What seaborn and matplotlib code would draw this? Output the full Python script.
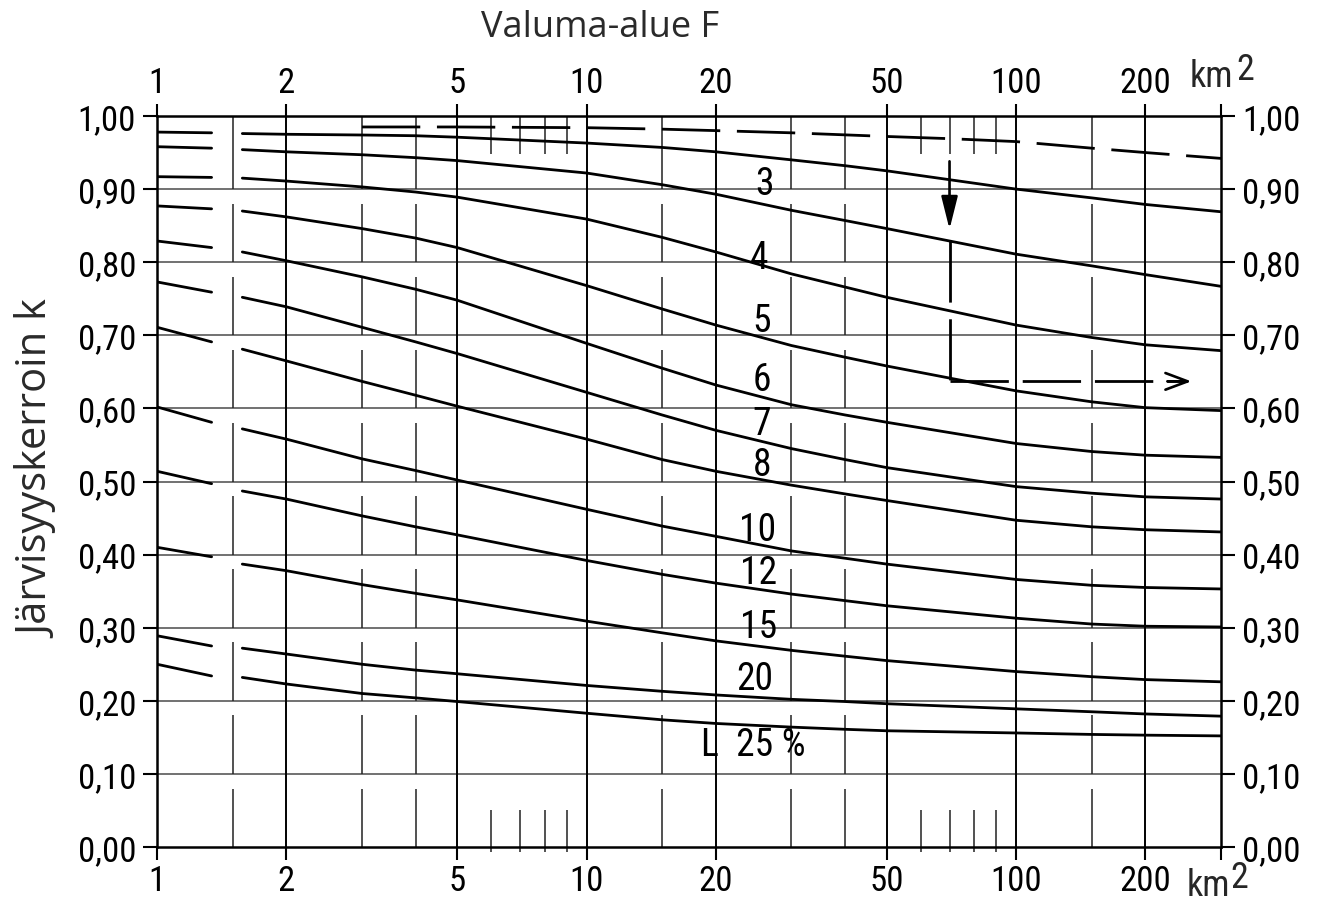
import os
import numpy as np
import pandas as pd
import matplotlib
matplotlib.use('Agg')
import matplotlib.pyplot as plt
from matplotlib import font_manager as fm
from matplotlib.ticker import NullLocator, FixedLocator, FixedFormatter
import seaborn as sns

# catchment area F (km2) where the curves were read
F = [1, 1.34, 1.58, 2, 3, 4, 5, 10, 15, 20, 30, 40, 50, 100, 150, 200, 300]

# lake coefficient k for each lake percentage L
L2 = [0.978, 0.977, 0.976, 0.975, 0.974, 0.973, 0.971, 0.963, 0.957, 0.951, 0.940, 0.932, 0.925, 0.900, 0.888, 0.879, 0.869]
L3 = [0.958, 0.956, 0.954, 0.951, 0.947, 0.943, 0.939, 0.922, 0.906, 0.893, 0.871, 0.857, 0.846, 0.811, 0.795, 0.783, 0.767]
L4 = [0.917, 0.916, 0.915, 0.911, 0.903, 0.896, 0.889, 0.859, 0.834, 0.814, 0.784, 0.766, 0.752, 0.714, 0.697, 0.687, 0.679]
L5 = [0.877, 0.873, 0.870, 0.862, 0.846, 0.833, 0.820, 0.768, 0.736, 0.714, 0.686, 0.670, 0.658, 0.624, 0.609, 0.601, 0.597]
L6 = [0.829, 0.820, 0.814, 0.802, 0.780, 0.763, 0.748, 0.689, 0.655, 0.632, 0.605, 0.591, 0.581, 0.552, 0.541, 0.536, 0.533]
L7 = [0.773, 0.759, 0.752, 0.739, 0.711, 0.691, 0.675, 0.622, 0.591, 0.570, 0.545, 0.530, 0.519, 0.493, 0.484, 0.479, 0.476]
L8 = [0.711, 0.691, 0.681, 0.665, 0.637, 0.618, 0.603, 0.558, 0.530, 0.514, 0.495, 0.483, 0.474, 0.447, 0.438, 0.434, 0.431]
L10 = [0.602, 0.581, 0.572, 0.558, 0.531, 0.515, 0.502, 0.462, 0.439, 0.425, 0.405, 0.395, 0.387, 0.366, 0.358, 0.355, 0.353]
L12 = [0.514, 0.497, 0.487, 0.476, 0.453, 0.438, 0.427, 0.392, 0.373, 0.361, 0.346, 0.337, 0.330, 0.313, 0.305, 0.302, 0.301]
L15 = [0.410, 0.397, 0.387, 0.378, 0.359, 0.347, 0.338, 0.309, 0.293, 0.282, 0.269, 0.261, 0.255, 0.240, 0.233, 0.229, 0.226]
L20 = [0.289, 0.275, 0.272, 0.264, 0.250, 0.242, 0.237, 0.221, 0.213, 0.208, 0.202, 0.199, 0.196, 0.189, 0.185, 0.182, 0.179]
L25 = [0.250, 0.234, 0.232, 0.223, 0.210, 0.204, 0.199, 0.183, 0.174, 0.169, 0.164, 0.161, 0.159, 0.156, 0.154, 0.153, 0.152]
CURVES = [L2, L3, L4, L5, L6, L7, L8, L10, L12, L15, L20, L25]

# dashed example curve at the top
DASH_F = [3, 5, 10, 15, 20, 30, 50, 70, 100, 150, 200, 300]
DASH_K = [0.985, 0.985, 0.984, 0.982, 0.980, 0.977, 0.972, 0.969, 0.965, 0.956, 0.950, 0.942]

# worked example: F = 70 km2 -> k = 0.637
EX_F = 70
EX_K = 0.637

CURVE_LABELS = ['3', '4', '5', '6', '7', '8', '10', '12', '15', '20']
LABEL_F = [25.9, 25.2, 25.6, 25.6, 25.6, 25.6, 25.0, 25.2, 25.2, 24.6]
LABEL_K = [0.907, 0.807, 0.72, 0.639, 0.58, 0.523, 0.435, 0.376, 0.302, 0.23]

X_TICKS = [1, 2, 5, 10, 20, 50, 100, 200, 300]
X_TICK_LABELS = ['1', '2', '5', '10', '20', '50', '100', '200', '']
Y_TICKS = [0.0, 0.1, 0.2, 0.3, 0.4, 0.5, 0.6, 0.7, 0.8, 0.9, 1.0]
Y_TICK_LABELS = ['0,00', '0,10', '0,20', '0,30', '0,40', '0,50', '0,60', '0,70', '0,80', '0,90', '1,00']
FULL_GRID = [2, 5, 10, 20, 50, 100, 200]
PART_GRID = [1.5, 3, 4, 15, 30, 40, 150]
SHORT_TICKS = [6, 7, 8, 9, 60, 70, 80, 90]

sns.set_style('white')

# look for a narrow face for the numbers
files = [f.fname for f in fm.fontManager.ttflist]
prefer = ['liberationsansnarrow-regular', 'robotocondensed-regular', 'notosans-condensed.',
          'notosans-condensedregular', 'dejavusanscondensed.', 'opensans-condensed',
          'opensans_condensed-regular']
narrow_file = None
for p in prefer:
    hits = [f for f in files if p in os.path.basename(f).lower()]
    if hits:
        narrow_file = hits[0]
        break
if narrow_file:
    fm.fontManager.addfont(narrow_file)
    num_name = fm.FontProperties(fname=narrow_file).get_name()
    plt.rcParams['font.stretch'] = 'condensed'
    num_size = 25
else:
    num_name = 'Roboto'
    num_size = 23
plt.rcParams['font.family'] = [num_name, 'DejaVu Sans']
text_font = ['Open Sans', 'DejaVu Sans']

# long table, each curve split in two pieces (gap around F = 1.5)
rows = []
for i, vals in enumerate(CURVES):
    for j, (f, k) in enumerate(zip(F, vals)):
        rows.append({'F': f, 'k': k, 'seg': f'{i}-{0 if j < 2 else 1}'})
df = pd.DataFrame(rows)

fig = plt.figure(figsize=(13.2, 9.04), dpi=100)
ax = fig.add_axes([157 / 1320, 56 / 904, 1064 / 1320, 731 / 904])
ax.set_xscale('log')
ax.set_xlim(1, 300)
ax.set_ylim(0, 1)

# grid
for y in Y_TICKS[1:-1]:
    ax.axhline(y, color='#666666', lw=1.3, zorder=1)
ax.vlines(FULL_GRID, 0, 1, color='black', lw=1.4, zorder=1)
seg_lo = [k / 10 for k in range(9)] + [0.9]
seg_hi = [k / 10 + 0.08 for k in range(9)] + [1.0]
for x in PART_GRID:
    ax.vlines([x] * len(seg_lo), seg_lo, seg_hi, color='#222222', lw=1.1, zorder=1)
ax.vlines(SHORT_TICKS, -0.007, 0.05, color='#222222', lw=1.1, zorder=1, clip_on=False)
ax.vlines(SHORT_TICKS, 0.948, 1.0, color='#222222', lw=1.1, zorder=1)

# curves
sns.lineplot(data=df, x='F', y='k', units='seg', estimator=None, sort=False,
             color='black', lw=2.0, ax=ax, legend=False, zorder=3)
dash_line = ax.plot(DASH_F, DASH_K, color='black', lw=2.0, zorder=3)[0]
dash_line.set_dashes([21, 6])

# worked example arrows
ax.annotate('', xy=(EX_F, 0.845), xytext=(EX_F, 0.938),
            arrowprops=dict(arrowstyle='-|>,head_length=2.0,head_width=0.5',
                            color='black', lw=1.9, shrinkA=0, shrinkB=0))
v = ax.plot([EX_F, EX_F], [0.829, EX_K], color='black', lw=2.0, zorder=3)[0]
v.set_dashes([22, 6])
h = ax.plot([EX_F, 250], [EX_K, EX_K], color='black', lw=2.0, zorder=3)[0]
h.set_dashes([21, 5])
ax.annotate('', xy=(256, EX_K), xytext=(225, EX_K),
            arrowprops=dict(arrowstyle='->,head_length=1.6,head_width=0.6',
                            color='black', lw=1.9, shrinkA=0, shrinkB=0))

# curve labels
for lab, f, k in zip(CURVE_LABELS, LABEL_F, LABEL_K):
    ax.text(f, k, lab, ha='center', va='center', fontsize=num_size + 2,
            color='black', zorder=4)
ax.text(18.5, 0.14, 'L  25 %', ha='left', va='center', fontsize=num_size + 2,
        color='black', zorder=4)

# spines and ticks
for s in ax.spines.values():
    s.set_visible(True)
    s.set_color('black')
    s.set_linewidth(1.8)
ax.xaxis.set_major_locator(FixedLocator(X_TICKS))
ax.xaxis.set_major_formatter(FixedFormatter(X_TICK_LABELS))
ax.xaxis.set_minor_locator(NullLocator())
ax.set_yticks(Y_TICKS)
ax.set_yticklabels(Y_TICK_LABELS)
ax.tick_params(axis='x', which='major', direction='out', length=9, width=1.5,
               top=True, labeltop=True, bottom=True, labelbottom=True,
               labelsize=num_size, pad=3, colors='black')
ax.tick_params(axis='y', which='major', direction='out', length=10, width=1.5,
               left=True, right=True, labelleft=True, labelright=True,
               labelsize=num_size, pad=5, colors='black')
ax.set_xlabel('')
ax.set_ylabel('')

# unit labels
fig.text(1187 / 1320, 1 - 896 / 904, 'km', fontsize=num_size + 1, va='baseline')
fig.text(1230 / 1320, 1 - 888 / 904, '2', fontsize=num_size + 1, va='baseline')
fig.text(1190 / 1320, 1 - 87 / 904, 'km', fontsize=num_size + 1, va='baseline')
fig.text(1236 / 1320, 1 - 80 / 904, '2', fontsize=num_size + 1, va='baseline')

fig.text(600 / 1320, 1 - 28 / 904, 'Valuma-alue F', ha='center', va='center',
         family=text_font, fontstretch='normal', fontsize=26, color='#2a2a2a')
fig.text(38 / 1320, 1 - 470 / 904, 'Järvisyyskerroin k', rotation=90, ha='center',
         va='center', family=text_font, fontstretch='normal', fontsize=30,
         color='#2a2a2a')

fig.savefig('out.png', dpi=100, facecolor='white')
